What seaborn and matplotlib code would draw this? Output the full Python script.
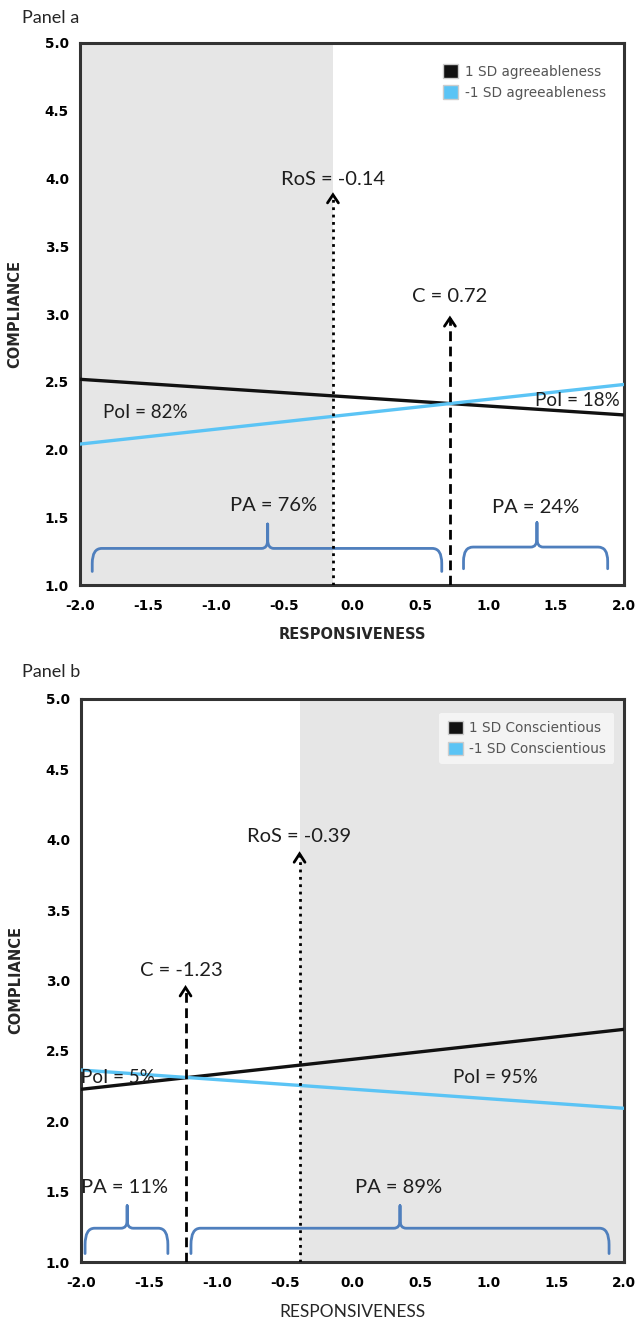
import numpy as np
import pandas as pd
import matplotlib
matplotlib.use("Agg")
import matplotlib.pyplot as plt
import seaborn as sns
from matplotlib.patches import Patch, PathPatch
from matplotlib.path import Path

# ---------------- data ----------------
x_ends = [-2.0, 2.0]
x_ticks = [-2.0, -1.5, -1.0, -0.5, 0.0, 0.5, 1.0, 1.5, 2.0]
y_ticks = [1.0, 1.5, 2.0, 2.5, 3.0, 3.5, 4.0, 4.5, 5.0]

a_series = ["1 SD agreeableness", "-1 SD agreeableness"]
a_high = [2.518, 2.255]
a_low = [2.04, 2.48]
a_ros = -0.14
a_c = 0.72
a_poi = ["PoI = 82%", "PoI = 18%"]
a_pa = ["PA = 76%", "PA = 24%"]

b_series = ["1 SD Conscientious", "-1 SD Conscientious"]
b_high = [2.227, 2.653]
b_low = [2.364, 2.092]
b_ros = -0.39
b_c = -1.23
b_poi = ["PoI = 5%", "PoI = 95%"]
b_pa = ["PA = 11%", "PA = 89%"]

# ---------------- style ----------------
sns.set_theme(style="white")
plt.rcParams["font.family"] = ["DejaVu Sans"]
plt.rcParams["axes.unicode_minus"] = False

BLACK = "#111111"
BLUE = "#5bc4f5"
SHADE = "#e6e6e6"
BRACE = "#4f7fbd"
TXT = "#1e1e1e"
ANN_FONT = ["Lato", "DejaVu Sans"]

fig = plt.figure(figsize=(6.38, 13.23), dpi=100)
ax_a = fig.add_axes([80 / 638, 1 - 585 / 1323, 544 / 638, 542 / 1323])
ax_b = fig.add_axes([81 / 638, 1 - 1262 / 1323, 543 / 638, 563 / 1323])


def brace(ax, x0, x1, xt, ybar, yend, ytip):
    rx, ry = 0.07, (ybar - yend) * 0.65
    tx, ty = 0.045, (ytip - ybar) * 0.35
    verts = [(x0, yend), (x0, ybar - ry), (x0, ybar), (x0 + rx, ybar),
             (xt - tx, ybar), (xt, ybar), (xt, ybar + ty), (xt, ytip),
             (xt, ybar + ty), (xt, ybar), (xt + tx, ybar),
             (x1 - rx, ybar), (x1, ybar), (x1, ybar - ry), (x1, yend)]
    codes = [Path.MOVETO, Path.LINETO, Path.CURVE3, Path.CURVE3,
             Path.LINETO, Path.CURVE3, Path.CURVE3, Path.LINETO,
             Path.LINETO, Path.CURVE3, Path.CURVE3,
             Path.LINETO, Path.CURVE3, Path.CURVE3, Path.LINETO]
    ax.add_patch(PathPatch(Path(verts, codes), fill=False, edgecolor=BRACE,
                           lw=2.0, capstyle="round", joinstyle="round", zorder=4))


def vline_arrow(ax, x, ytop, style):
    ax.plot([x, x], [1.0, ytop], color="black", lw=2.0, linestyle=style,
            zorder=5, solid_capstyle="butt")
    ax.plot([x - 0.04, x, x + 0.04], [ytop - 0.06, ytop, ytop - 0.06],
            color="black", lw=2.0, zorder=5, solid_joinstyle="miter")


def panel(ax, series, high, low, shade):
    df = pd.DataFrame({
        "x": x_ends + x_ends,
        "y": high + low,
        "grp": [series[0]] * 2 + [series[1]] * 2,
    })
    ax.axvspan(shade[0], shade[1], color=SHADE, zorder=0, lw=0)
    sns.lineplot(data=df, x="x", y="y", hue="grp", palette=[BLACK, BLUE],
                 lw=2.4, ax=ax, legend=False, zorder=3)
    ax.set_xlim(-2, 2)
    ax.set_ylim(1, 5)
    ax.set_xticks(x_ticks)
    ax.set_yticks(y_ticks)
    ax.set_xticklabels([f"{t:.1f}" for t in x_ticks], fontweight="bold", fontsize=9.8)
    ax.set_yticklabels([f"{t:.1f}" for t in y_ticks], fontweight="bold", fontsize=9.8)
    ax.tick_params(axis="x", length=0, pad=10, colors="black")
    ax.tick_params(axis="y", length=0, pad=8, colors="black")
    for s in ax.spines.values():
        s.set_color("#333333")
        s.set_linewidth(2.2)
        s.set_visible(True)
    ax.set_ylabel("COMPLIANCE", fontweight="bold", fontsize=10.5)
    ax.yaxis.set_label_coords(-0.107, 0.5)
    handles = [Patch(facecolor=BLACK, edgecolor="#cccccc", lw=1, label=series[0]),
               Patch(facecolor=BLUE, edgecolor="#cccccc", lw=1, label=series[1])]
    leg = ax.legend(handles=handles, loc="upper right", bbox_to_anchor=(0.995, 0.988),
                    fontsize=9.8, frameon=True, facecolor="white", edgecolor="none",
                    framealpha=0.6, handlelength=1.1, handleheight=1.1,
                    handletextpad=0.5, labelspacing=0.5, borderpad=0.6)
    for t in leg.get_texts():
        t.set_color("#555555")


def ann(ax, x, y, s, ha="center", size=14.5):
    ax.text(x, y, s, ha=ha, va="center", fontsize=size, family=ANN_FONT,
            color=TXT, zorder=6)


# ---------------- Panel a ----------------
panel(ax_a, a_series, a_high, a_low, (-2.0, a_ros))
vline_arrow(ax_a, a_ros, 3.88, ":")
vline_arrow(ax_a, a_c, 2.97, (0, (3.5, 2)))
ann(ax_a, a_ros, 3.99, f"RoS = {a_ros:.2f}")
ann(ax_a, a_c, 3.13, f"C = {a_c:.2f}")
ann(ax_a, -1.52, 2.27, a_poi[0], size=13.5)
ann(ax_a, 1.97, 2.36, a_poi[1], ha="right", size=13.5)
ann(ax_a, -0.58, 1.59, a_pa[0])
ann(ax_a, 1.35, 1.57, a_pa[1])
brace(ax_a, -1.91, 0.66, -0.62, 1.27, 1.10, 1.45)
brace(ax_a, 0.82, 1.88, 1.36, 1.28, 1.12, 1.46)
ax_a.set_xlabel("RESPONSIVENESS", fontweight="bold", fontsize=10.5)
ax_a.xaxis.set_label_coords(0.5, -0.077)
fig.text(22 / 638, 1 - 18 / 1323, "Panel a", ha="left", va="center",
         fontsize=13, family=ANN_FONT)

# ---------------- Panel b ----------------
panel(ax_b, b_series, b_high, b_low, (b_ros, 2.0))
vline_arrow(ax_b, b_ros, 3.9, ":")
vline_arrow(ax_b, b_c, 2.95, (0, (3.5, 2)))
ann(ax_b, b_ros, 4.02, f"RoS = {b_ros:.2f}")
ann(ax_b, b_c - 0.03, 3.07, f"C = {b_c:.2f}")
ann(ax_b, -2.0, 2.31, b_poi[0], ha="left", size=13.5)
ann(ax_b, 1.05, 2.31, b_poi[1], size=13.5)
ann(ax_b, -1.68, 1.53, b_pa[0])
ann(ax_b, 0.34, 1.53, b_pa[1])
brace(ax_b, -1.97, -1.36, -1.66, 1.24, 1.06, 1.40)
brace(ax_b, -1.19, 1.89, 0.35, 1.24, 1.06, 1.40)
ax_b.set_xlabel("RESPONSIVENESS", fontsize=12.5, family=ANN_FONT)
ax_b.xaxis.set_label_coords(0.5, -0.074)
fig.text(22 / 638, 1 - 672 / 1323, "Panel b", ha="left", va="center",
         fontsize=13, family=ANN_FONT)

fig.savefig("out.png", dpi=100)
